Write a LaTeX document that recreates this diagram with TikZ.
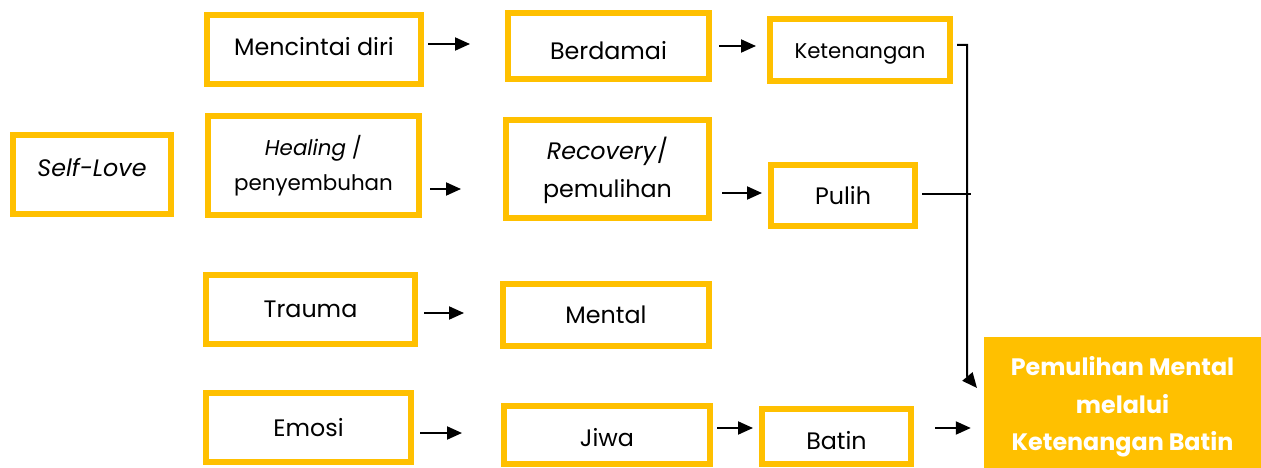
\documentclass[tikz,border=0pt]{standalone}
\usepackage{fontspec}
\setmainfont{Poppins}
\usetikzlibrary{arrows.meta,calc}
\definecolor{gold}{RGB}{255,192,0}
\newcommand\liftby[2]{\raisebox{#1}[\height][\depth]{#2}}
\begin{document}
\begin{tikzpicture}[x=1pt,y=-1pt,
  ybox/.style={draw=gold, line width=6pt, fill=white, inner sep=0pt, align=center,
    font=\fontsize{23.8}{36}\selectfont, text=black},
  arr/.style={draw=black, line width=2pt, -{Triangle[length=15pt,width=13pt]}},
  conn/.style={draw=black, line width=2pt},
  finalbox/.style={fill=gold, inner sep=0pt, align=center, text=white,
    font=\fontsize{23.8}{37.5}\selectfont\bfseries}]
\useasboundingbox[fill=white] (0,0) rectangle (1261,468);
% boxes
\node[ybox, minimum width=158, minimum height=79] (selflove) at (92,174.5) {\liftby{7pt}{\textit{Self-Love}}};
\node[ybox, minimum width=214, minimum height=69] (mencintai) at (314,49.5) {\liftby{3pt}{Mencintai diri}};
\node[ybox, minimum width=211, minimum height=99, font=\fontsize{21.4}{35}\selectfont] (healing) at (313.5,165.5) {\textit{Healing} /\\penyembuhan};
\node[ybox, minimum width=201, minimum height=66] (berdamai) at (608.5,46) {\liftby{-5pt}{Berdamai}};
\node[ybox, minimum width=180, minimum height=62, font=\fontsize{21.3}{30}\selectfont] (ketenangan) at (860,50) {\liftby{-4pt}{Ketenangan}};
\node[ybox, minimum width=203, minimum height=98, font=\fontsize{23.8}{38}\selectfont] (recovery) at (607.5,169) {\liftby{-2pt}{\begin{tabular}{@{}c@{}}\textit{Recovery}/\\pemulihan\end{tabular}}};
\node[ybox, minimum width=144, minimum height=61] (pulih) at (843,195.5) {Pulih};
\node[ybox, minimum width=209, minimum height=69] (trauma) at (310.5,309.5) {Trauma};
\node[ybox, minimum width=206, minimum height=62] (mental) at (606,315) {Mental};
\node[ybox, minimum width=205, minimum height=69] (emosi) at (308.5,427.5) {Emosi};
\node[ybox, minimum width=206, minimum height=58] (jiwa) at (607,435) {\liftby{-3pt}{Jiwa}};
\node[ybox, minimum width=149, minimum height=55] (batin) at (836.5,436.5) {\liftby{-4pt}{Batin}};
\node[finalbox, minimum width=277, minimum height=131] (final) at (1122.5,402.5) {\liftby{-3pt}{\begin{tabular}{@{}c@{}}Pemulihan Mental\\melalui\\Ketenangan Batin\end{tabular}}};
% arrows
\draw[arr, shorten <=4pt, shorten >=35pt] (mencintai.east |- 0,44) -- (berdamai.west |- 0,44);
\draw[arr, shorten <=8pt, shorten >=42pt] (healing.east |- 0,189) -- (recovery.west |- 0,189);
\draw[arr, shorten <=7pt, shorten >=11pt] (berdamai.east |- 0,46) -- (ketenangan.west |- 0,46);
\draw[arr, shorten <=10pt, shorten >=6pt] (recovery.east |- 0,193) -- (pulih.west |- 0,193);
\draw[arr, shorten <=6pt, shorten >=36pt] (trauma.east |- 0,313) -- (mental.west |- 0,313);
\draw[arr, shorten <=6pt, shorten >=39pt] (emosi.east |- 0,433) -- (jiwa.west |- 0,433);
\draw[arr, shorten <=4pt, shorten >=6pt] (jiwa.east |- 0,428) -- (batin.west |- 0,428);
\draw[arr, shorten <=21pt, shorten >=13pt] (batin.east |- 0,428) -- (final.west |- 0,428);
% joining line
\coordinate (jtop) at (967,45);
\coordinate (jbend) at (967,376);
\coordinate (jtip) at (977,388);
\coordinate (jmid) at (971,194);
\draw[arr] ($(ketenangan.east |- jtop)+(4,0)$) -- (jtop) -- (jbend) -- (jtip);
\draw[conn] ($(pulih.east |- jmid)+(4,0)$) -- (jmid);
\end{tikzpicture}
\end{document}
